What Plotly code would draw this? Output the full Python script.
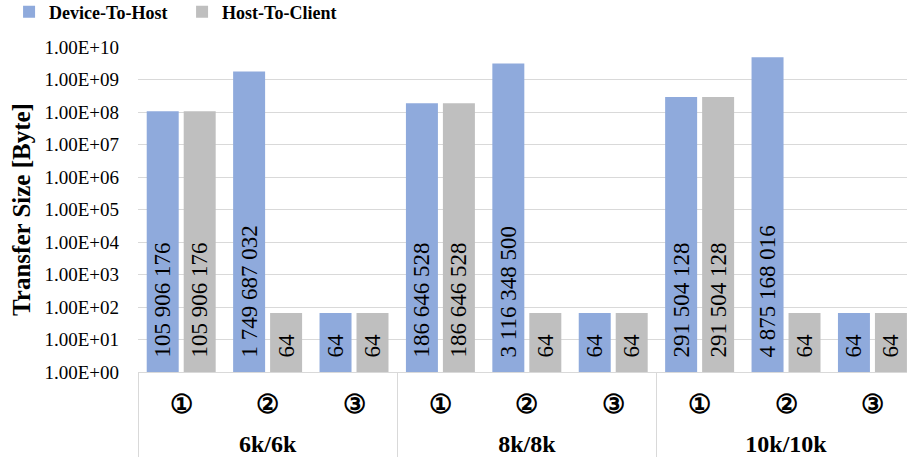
import plotly.graph_objects as go

groups = ["6k/6k", "8k/8k", "10k/10k"]
steps = ["①", "②", "③"]
device_to_host = [105906176, 1749687032, 64,
                  186646528, 3116348500, 64,
                  291504128, 4875168016, 64]
host_to_client = [105906176, 64, 64,
                  186646528, 64, 64,
                  291504128, 64, 64]
tick_vals = [1, 1e1, 1e2, 1e3, 1e4, 1e5, 1e6, 1e7, 1e8, 1e9, 1e10]
tick_text = ["1.00E+00", "1.00E+01", "1.00E+02", "1.00E+03", "1.00E+04",
             "1.00E+05", "1.00E+06", "1.00E+07", "1.00E+08", "1.00E+09", "1.00E+10"]

x_groups = ["<br><span style='font-size:24px'>" + g + "</span>" for g in groups for _ in steps]
x_steps = ["<span style='font-size:26px'>" + s + "</span>" for _ in groups for s in steps]

def fmt(v):
    return "\u00a0\u00a0" + f"{v:,}".replace(",", " ")

SERIF = "Liberation Serif"
BLUE = "#8FAADC"
GREY = "#BFBFBF"

fig = go.Figure()
for name, vals, color in [("Device-To-Host", device_to_host, BLUE),
                          ("Host-To-Client", host_to_client, GREY)]:
    fig.add_trace(go.Bar(
        name=name,
        x=[x_groups, x_steps],
        y=vals,
        base=1,
        marker=dict(color=color, line=dict(width=0)),
        text=[fmt(v) for v in vals],
        textposition="inside",
        insidetextanchor="start",
        textangle=-90,
        textfont=dict(family=SERIF, size=23, color="black"),
        insidetextfont=dict(family=SERIF, size=23, color="black"),
        cliponaxis=False,
    ))

fig.update_layout(
    width=907, height=465,
    margin=dict(l=138, r=0, t=47, b=93, autoexpand=False),
    paper_bgcolor="white", plot_bgcolor="white",
    barmode="group", bargap=0.144, bargroupgap=0.135,
    font=dict(family=SERIF, color="black"),
    showlegend=True,
    legend=dict(orientation="h", xref="container", yref="container",
                x=0.01, y=0.974, xanchor="left", yanchor="middle",
                font=dict(family=SERIF, size=18, weight="bold"),
                entrywidth=128,
                itemclick=False),
    xaxis=dict(
        type="multicategory", automargin=False,
        range=[-0.5, 8.4],
        showline=True, linecolor="#D9D9D9", linewidth=1,
        showdividers=True, dividercolor="#D9D9D9", dividerwidth=1,
        tickfont=dict(family=SERIF, size=19, weight="bold"),
        ticks="", ticklabelstandoff=17,
        showgrid=False,
    ),
    yaxis=dict(
        type="log", range=[0, 10], automargin=False,
        tickvals=tick_vals, ticktext=tick_text,
        tickfont=dict(family=SERIF, size=19),
        gridcolor="#D9D9D9", gridwidth=1,
        showline=False, zeroline=False, ticks="",
        ticklabelstandoff=18,
        title=dict(text="Transfer Size [Byte]",
                   font=dict(family=SERIF, size=25, weight="bold"),
                   standoff=6),
    ),
)

fig.write_html("out.html")
